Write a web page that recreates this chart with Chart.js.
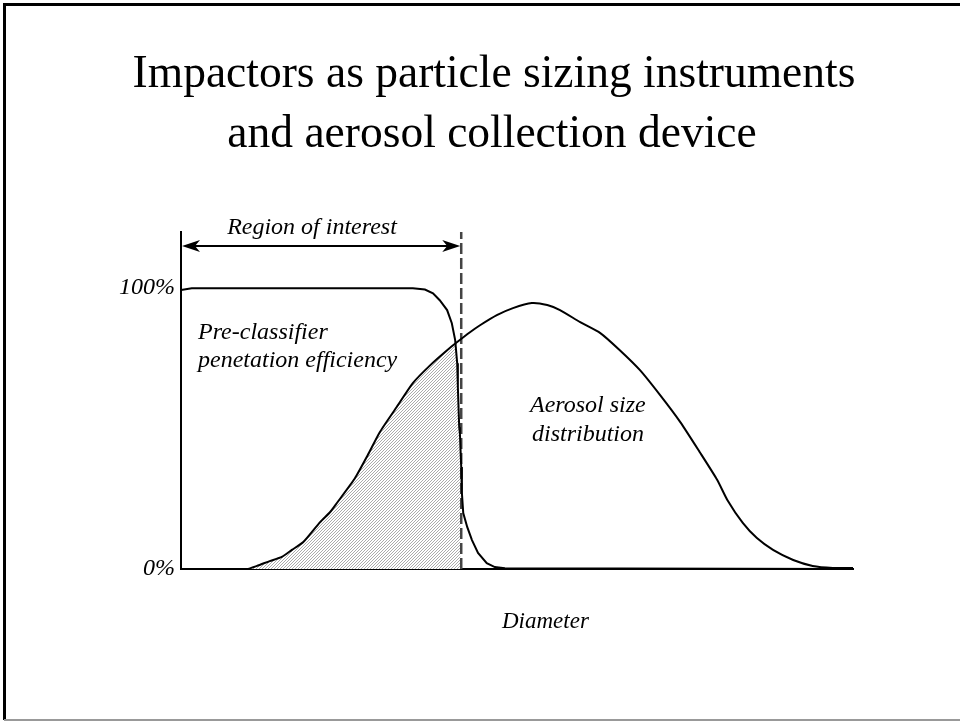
<!DOCTYPE html>
<html>
<head>
<meta charset="utf-8">
<script src="https://cdn.jsdelivr.net/npm/chart.js@4"></script>
<style>
  html, body { margin: 0; padding: 0; background: #fff; }
  #wrap { position: absolute; left: 0; top: 0; width: 960px; height: 721px; }
</style>
</head>
<body>
<div id="wrap"><canvas id="myChart" width="960" height="721"></canvas></div>
<script>
// diameter in arbitrary units (0..100 along the axis), values in %
const effX = [0, 1.6, 34.5, 36.3, 37.5, 38.5, 39.6, 40.3, 40.8, 41.1, 41.2, 41.4, 41.5, 41.7, 41.8, 42.0, 42.6, 43.3, 44.2, 45.5, 46.7, 48.2, 100];
const effY = [99.3, 100, 100, 99.5, 98.2, 95.7, 92.2, 87.5, 81.5, 73.3, 64.8, 50.5, 48.4, 36.3, 27.0, 19.9, 14.9, 10.3, 5.7, 2.1, 0.7, 0.3, 0];

const aeroX = [5.1, 9.8, 11.3, 13.2, 15.0, 16.5, 18.2, 20.7, 22.2, 23.2, 25.9, 27.8, 29.6, 32.1, 34.5, 37.1, 39.6, 41.1, 43.0, 44.5, 47.0, 49.4, 52.2, 54.5, 56.4, 59.4, 62.4, 65.3, 68.3, 71.3, 74.3, 77.2, 79.8, 81.3, 83.6, 85.7, 88.1, 91.1, 94.0, 97.0, 100];
const aeroY = [0, 0, 1.1, 2.8, 4.3, 6.8, 9.6, 16.7, 20.3, 23.5, 32.4, 40.6, 48.8, 57.7, 66.2, 72.6, 77.9, 80.8, 84.3, 86.8, 90.4, 92.9, 94.7, 94.0, 92.2, 87.9, 84.0, 77.9, 70.8, 61.9, 52.3, 41.6, 31.7, 24.6, 16.4, 11.0, 6.8, 3.2, 1.1, 0.4, 0.4];

// penetrating part of the distribution (shaded)
const shadeX = [5.1, 9.8, 11.3, 13.2, 15.0, 16.5, 18.2, 20.7, 22.2, 23.2, 25.9, 27.8, 29.6, 32.1, 34.5, 37.1, 39.6, 41.0, 41.2, 41.4, 41.6, 41.6];
const shadeY = [0, 0, 1.1, 2.8, 4.3, 6.8, 9.6, 16.7, 20.3, 23.5, 32.4, 40.6, 48.8, 57.7, 66.2, 72.6, 77.9, 80.6, 64.8, 50.5, 36.0, 0];

const cutoff = 41.7;
const yTicks = [0, 100];
const titleLines = ["Impactors as particle sizing instruments", "and aerosol collection device"];

const pts = (xs, ys) => xs.map((x, i) => ({ x: x, y: ys[i] }));

// hatch pattern for the shaded area
const pc = document.createElement("canvas");
pc.width = 3; pc.height = 3;
const pctx = pc.getContext("2d");
pctx.fillStyle = "#fff";
pctx.fillRect(0, 0, 3, 3);
pctx.strokeStyle = "#a2a2a2";
pctx.lineWidth = 0.9;
pctx.beginPath();
pctx.moveTo(-1, 4); pctx.lineTo(4, -1);
pctx.stroke();
const hatch = pctx.createPattern(pc, "repeat");

const serif = "'Liberation Serif', 'Times New Roman', serif";

const decor = {
  id: "decor",
  beforeDraw(chart) {
    const c = chart.ctx;
    c.save();
    c.fillStyle = "#fff";
    c.fillRect(0, 0, chart.width, chart.height);
    // frame
    c.strokeStyle = "#000";
    c.lineWidth = 3;
    c.beginPath();
    c.moveTo(4.5, 720); c.lineTo(4.5, 4.5); c.lineTo(960, 4.5);
    c.stroke();
    c.strokeStyle = "#999";
    c.lineWidth = 2;
    c.beginPath();
    c.moveTo(4, 720); c.lineTo(960, 720);
    c.stroke();
    c.restore();
  },
  afterDraw(chart) {
    const c = chart.ctx;
    const xs = chart.scales.x, ys = chart.scales.y;
    c.save();
    c.fillStyle = "#000";
    // title
    c.font = "45.5px " + serif;
    c.textAlign = "center";
    c.textBaseline = "alphabetic";
    c.fillText(titleLines[0], 494, 87);
    c.fillText(titleLines[1], 492, 147);

    // region of interest arrow
    const ay = ys.getPixelForValue(115);
    const ax0 = xs.getPixelForValue(0) + 1;
    const ax1 = xs.getPixelForValue(cutoff) - 1;
    c.strokeStyle = "#000";
    c.lineWidth = 2;
    c.beginPath();
    c.moveTo(ax0 + 8, ay); c.lineTo(ax1 - 8, ay);
    c.stroke();
    c.beginPath();
    c.moveTo(ax0, ay); c.lineTo(ax0 + 18, ay - 6); c.lineTo(ax0 + 13, ay); c.lineTo(ax0 + 18, ay + 6); c.closePath();
    c.fill();
    c.beginPath();
    c.moveTo(ax1, ay); c.lineTo(ax1 - 18, ay - 6); c.lineTo(ax1 - 13, ay); c.lineTo(ax1 - 18, ay + 6); c.closePath();
    c.fill();

    // annotations
    c.font = "italic 24px " + serif;
    c.textAlign = "center";
    c.fillText("Region of interest", 312, 234);
    c.textAlign = "left";
    c.fillText("Pre-classifier", 198, 339);
    c.fillText("penetation efficiency", 198, 367);
    c.fillText("Aerosol size", 530, 412);
    c.fillText("distribution", 532, 441);
    c.font = "italic 23px " + serif;
    c.fillText("Diameter", 502, 628);
    c.restore();
  }
};

const config = {
  type: "line",
  data: {
    datasets: [
      {
        label: "Pre-classifier penetation efficiency",
        data: pts(effX, effY),
        borderColor: "#000",
        borderWidth: 2,
        pointRadius: 0,
        tension: 0,
        fill: false,
      },
      {
        label: "Aerosol size distribution",
        data: pts(aeroX, aeroY),
        borderColor: "#000",
        borderWidth: 2,
        pointRadius: 0,
        tension: 0.2,
        fill: false,
      },
      {
        label: "Cut-off",
        data: [{ x: cutoff, y: 0 }, { x: cutoff, y: 120 }],
        borderColor: "#444",
        borderWidth: 2.5,
        borderDash: [11, 4],
        pointRadius: 0,
        fill: false,
      },
      {
        label: "Penetrating aerosol",
        data: pts(shadeX, shadeY),
        borderWidth: 0,
        borderColor: "rgba(0,0,0,0)",
        backgroundColor: hatch,
        pointRadius: 0,
        tension: 0,
        fill: "origin",
      },
    ],
  },
  options: {
    responsive: false,
    animation: false,
    layout: { padding: { top: 232, right: 107, left: 0, bottom: 0 } },
    plugins: {
      legend: { display: false },
      tooltip: { enabled: false },
      title: { display: false },
    },
    scales: {
      x: {
        type: "linear",
        min: 0,
        max: 100,
        grid: { display: false, drawTicks: false },
        ticks: { display: false },
        border: { display: true, color: "#000", width: 2 },
        afterFit: (s) => { s.height = 152; },
      },
      y: {
        type: "linear",
        min: 0,
        max: 120,
        grid: { display: false, drawTicks: false },
        border: { display: true, color: "#000", width: 2 },
        afterBuildTicks: (s) => { s.ticks = yTicks.map((v) => ({ value: v })); },
        ticks: {
          padding: 6,
          color: "#000",
          font: { family: serif, size: 24, style: "italic" },
          callback: (v) => v + "%",
        },
        afterFit: (s) => { s.width = 181; },
      },
    },
  },
  plugins: [decor],
};

const chart = new Chart(document.getElementById("myChart"), config);
</script>
</body>
</html>
